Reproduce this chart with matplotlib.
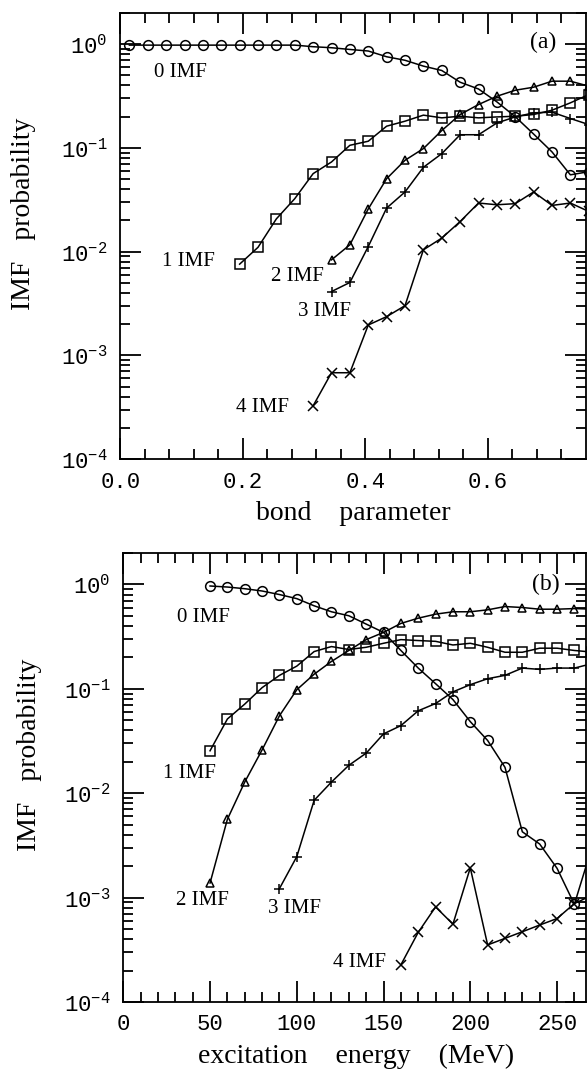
import numpy as np
import matplotlib
matplotlib.use('Agg')
import matplotlib.pyplot as plt
from matplotlib.ticker import FixedLocator, LogLocator, NullFormatter, FuncFormatter

# fonts: serif for labels, mono for tick numbers
serif = 'Liberation Serif'
mono = 'Liberation Mono'

# ---- panel (a): bond parameter ----
b_grid = [0.015 + 0.03 * k for k in range(26)]

a_imf0 = [0.98, 0.98, 0.98, 0.98, 0.98, 0.98, 0.98, 0.98, 0.98, 0.98,
          0.946, 0.925, 0.89, 0.86, 0.757, 0.70, 0.615, 0.558, 0.43, 0.37,
          0.278, 0.20, 0.136, 0.0915, 0.055, 0.059]
a_imf1 = [0.00757, 0.011, 0.0207, 0.0324, 0.0565, 0.0732, 0.106, 0.116,
          0.162, 0.181, 0.207, 0.195, 0.202, 0.195, 0.199, 0.202, 0.21,
          0.231, 0.272, 0.327]
a_imf2 = [0.00833, 0.01163, 0.0258, 0.0505, 0.076, 0.0985, 0.147, 0.21,
          0.262, 0.315, 0.36, 0.385, 0.44, 0.44, 0.394]
a_imf3 = [0.00412, 0.00504, 0.0112, 0.0263, 0.0376, 0.065, 0.088, 0.134,
          0.134, 0.174, 0.199, 0.218, 0.221, 0.192, 0.168]
a_imf4 = [0.000326, 0.000679, 0.000679, 0.00196, 0.00236, 0.00301, 0.0104,
          0.0135, 0.0195, 0.0294, 0.0283, 0.029, 0.0376, 0.0279, 0.0294, 0.0244]

# ---- panel (b): excitation energy ----
e_imf0 = list(range(50, 280, 10))
b_imf0 = [0.966, 0.944, 0.91, 0.865, 0.80, 0.731, 0.624, 0.547, 0.501, 0.417,
          0.347, 0.233, 0.158, 0.112, 0.0789, 0.0485, 0.032, 0.0177, 0.00427,
          0.00326, 0.00191, 0.000863, 0.003]
e_imf1 = list(range(50, 280, 10))
b_imf1 = [0.0255, 0.0514, 0.0714, 0.1026, 0.1345, 0.165, 0.2275, 0.254, 0.238,
          0.25, 0.273, 0.296, 0.29, 0.285, 0.263, 0.273, 0.25, 0.224, 0.224,
          0.245, 0.245, 0.233, 0.225]
e_imf2 = list(range(50, 280, 10))
b_imf2 = [0.00138, 0.00563, 0.0128, 0.026, 0.0552, 0.098, 0.138, 0.183, 0.233,
          0.296, 0.347, 0.423, 0.475, 0.519, 0.547, 0.547, 0.571, 0.614, 0.601,
          0.579, 0.579, 0.587, 0.58]
e_imf3 = list(range(90, 280, 10))
b_imf3 = [0.00122, 0.00247, 0.00855, 0.0128, 0.0185, 0.0242, 0.037, 0.0444,
          0.0616, 0.0723, 0.0935, 0.1096, 0.125, 0.1346, 0.158, 0.1535, 0.158,
          0.158, 0.174]
e_imf4 = list(range(160, 280, 10))
b_imf4 = [0.000227, 0.000465, 0.000814, 0.000557, 0.00193, 0.000352, 0.000407,
          0.000471, 0.000546, 0.00063, 0.000877, 0.00105]

ytick_vals = [1e-4, 1e-3, 1e-2, 1e-1, 1e0]
ytick_text = ['$\\mathregular{10^{-4}}$', '$\\mathregular{10^{-3}}$',
              '$\\mathregular{10^{-2}}$', '$\\mathregular{10^{-1}}$',
              '$\\mathregular{10^{0}}$']

W, H = 587, 1071
fig = plt.figure(figsize=(W / 100, H / 100), dpi=100)
fig.patch.set_facecolor('white')


def px_axes(l, t, r, b):
    return fig.add_axes([l / W, 1 - b / H, (r - l) / W, (b - t) / H])


ax_a = px_axes(120.2, 13, 586, 459)
ax_b = px_axes(123.3, 553, 586, 1002)

mk = dict(color='black', lw=1.1, mfc='none', mec='black', mew=1.1)


def style(ax):
    ax.set_yscale('log')
    ax.set_ylim(1e-4, 2.0)
    ax.yaxis.set_major_locator(FixedLocator(ytick_vals))
    ax.set_yticklabels(ytick_text)
    ax.yaxis.set_minor_locator(LogLocator(base=10, subs=np.arange(2, 10)))
    ax.yaxis.set_minor_formatter(NullFormatter())
    ax.tick_params(which='both', direction='in', top=True, right=True,
                   width=1.3, colors='black')
    ax.tick_params(which='major', length=15, labelsize=16, pad=9)
    ax.tick_params(which='minor', length=7)
    for lab in ax.get_xticklabels() + ax.get_yticklabels():
        lab.set_family(mono)
    for sp in ax.spines.values():
        sp.set_linewidth(1.3)
    ax.set_ylabel('IMF   probability', fontsize=20, family=serif)


# panel (a)
ax_a.plot(b_grid, a_imf0, marker='o', ms=7, **mk)
ax_a.plot(b_grid[6:], a_imf1, marker='s', ms=6.5, **mk)
ax_a.plot(b_grid[11:], a_imf2, marker='^', ms=5.5, **mk)
ax_a.plot(b_grid[11:], a_imf3, marker='+', ms=7, **mk)
ax_a.plot(b_grid[10:], a_imf4, marker='x', ms=7, **mk)
ax_a.set_xlim(0, 0.7605)
ax_a.xaxis.set_major_locator(FixedLocator([0.0, 0.2, 0.4, 0.6]))
ax_a.xaxis.set_minor_locator(FixedLocator(np.arange(0.04, 0.76, 0.04)))
ax_a.xaxis.set_major_formatter(FuncFormatter(lambda v, p: '%.1f' % v))
style(ax_a)
ax_a.yaxis.set_label_coords(-0.18, 0.55)
ax_a.set_xlabel('bond    parameter', fontsize=20, family=serif)
ax_a.xaxis.set_label_coords(0.5, -0.095)

lab = dict(fontsize=15, family=serif, ha='center', va='center')
ax_a.text(0.098, 0.534, '0 IMF', **lab)
ax_a.text(0.111, 0.00796, '1 IMF', **lab)
ax_a.text(0.289, 0.0057, '2 IMF', **lab)
ax_a.text(0.333, 0.00262, '3 IMF', **lab)
ax_a.text(0.233, 0.000316, '4 IMF', **lab)
ax_a.text(0.69, 1.04, '(a)', fontsize=17, family=serif, ha='center', va='center')

# panel (b)
ax_b.plot(e_imf0, b_imf0, marker='o', ms=7, **mk)
ax_b.plot(e_imf1, b_imf1, marker='s', ms=6.5, **mk)
ax_b.plot(e_imf2, b_imf2, marker='^', ms=5.5, **mk)
ax_b.plot(e_imf3, b_imf3, marker='+', ms=7, **mk)
ax_b.plot(e_imf4, b_imf4, marker='x', ms=7, **mk)
ax_b.set_xlim(0, 266.7)
ax_b.xaxis.set_major_locator(FixedLocator([0, 50, 100, 150, 200, 250]))
ax_b.xaxis.set_minor_locator(FixedLocator(np.arange(10, 266, 10)))
style(ax_b)
ax_b.yaxis.set_label_coords(-0.175, 0.55)
ax_b.set_xlabel('excitation    energy    (MeV)', fontsize=20, family=serif)
ax_b.xaxis.set_label_coords(0.503, -0.094)

ax_b.text(46, 0.482, '0 IMF', **lab)
ax_b.text(37.9, 0.0155, '1 IMF', **lab)
ax_b.text(45.4, 0.000942, '2 IMF', **lab)
ax_b.text(98.4, 0.000794, '3 IMF', **lab)
ax_b.text(136, 0.000238, '4 IMF', **lab)
ax_b.text(243.8, 0.993, '(b)', fontsize=17, family=serif, ha='center', va='center')

fig.savefig('out.png', dpi=100)
